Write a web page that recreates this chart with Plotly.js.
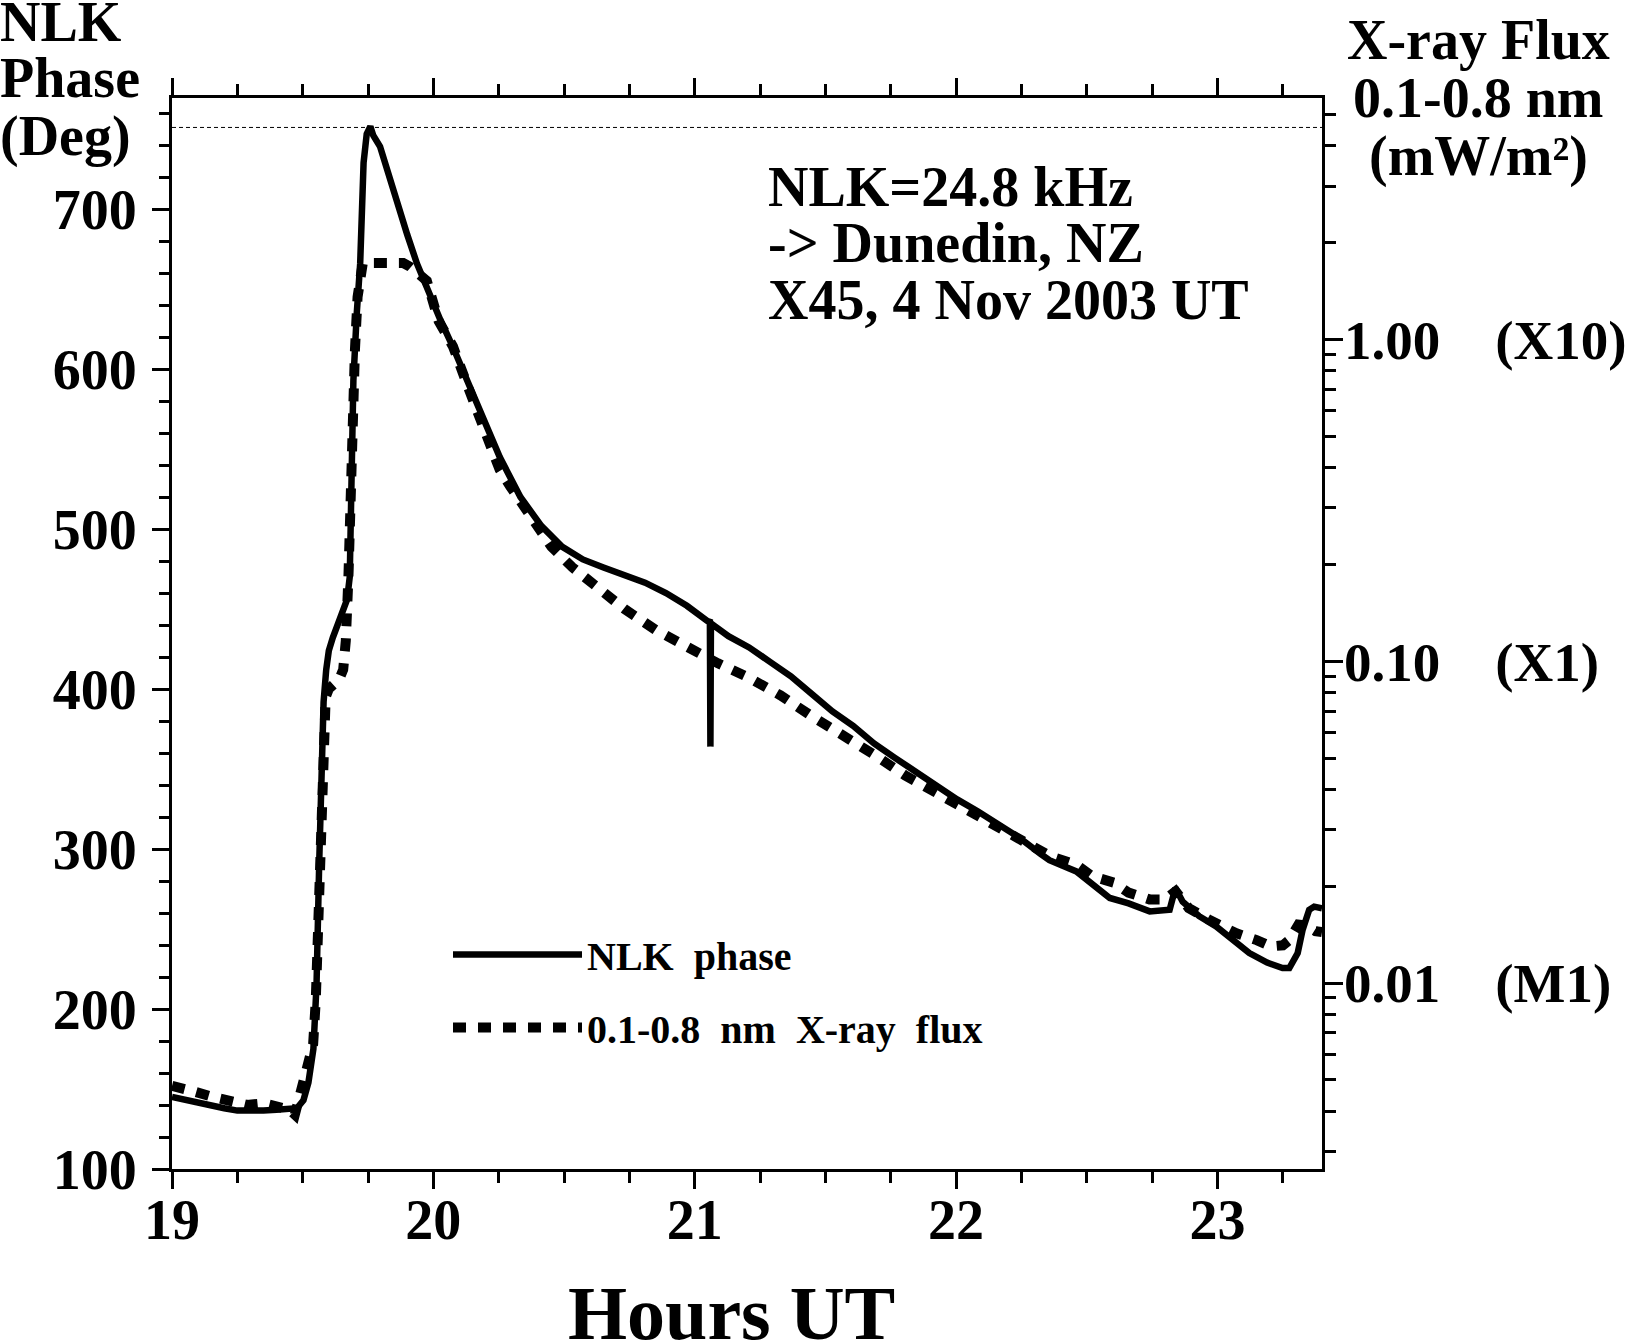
<!DOCTYPE html>
<html><head><meta charset="utf-8">
<script src="https://cdn.plot.ly/plotly-3.0.1.min.js"></script>
<style>html,body{margin:0;padding:0;background:#fff;}</style>
</head><body><div id="chart" style="width:1632px;height:1342px;"></div>
<script>
// ---- data ----
const phaseHours = [19.00,19.05,19.10,19.15,19.20,19.25,19.30,19.35,19.40,19.45,19.478,19.503,19.522,19.541,19.553,19.563,19.572,19.580,19.590,19.600,19.615,19.635,19.655,19.670,19.680,19.688,19.694,19.707,19.720,19.733,19.745,19.759,19.770,19.796,19.830,19.860,19.900,19.937,19.975,20.026,20.077,20.128,20.217,20.254,20.333,20.413,20.492,20.572,20.651,20.731,20.810,20.890,20.970,21.049,21.058,21.060,21.062,21.129,21.208,21.288,21.368,21.447,21.527,21.606,21.686,21.766,21.845,21.925,22.004,22.084,22.163,22.243,22.323,22.357,22.460,22.523,22.588,22.660,22.741,22.817,22.839,22.867,22.930,22.995,23.060,23.122,23.190,23.249,23.275,23.307,23.326,23.351,23.370,23.400];
const phaseDeg = [145,143,141,139.5,138,136.5,136,136.5,137,137,138,143,154,175,215,290,360,392,412,424,432,440,448,456,470,556,593,635,666,729,747,751.6,746,739,720,704,684,666,650,631,613,593,560,545,520,502,489,481,476,471,466.5,460,452,442.5,442,364,441,433,426,417,408,397,386,377,366,357,348,340,331,323.5,315.5,307,297,293,286,278,269.4,266,261,262,275.6,267,258,251.6,243,235,229,225.6,225.6,235,249.6,262,264,263];

const fluxHours = [19.00,19.04,19.08,19.146,19.22,19.287,19.35,19.39,19.45,19.47,19.49,19.51,19.529,19.54,19.55,19.56,19.57,19.578,19.588,19.60,19.62,19.64,19.655,19.665,19.675,19.685,19.692,19.70,19.71,19.72,19.73,19.78,19.83,19.885,19.91,19.94,19.975,20.02,20.075,20.134,20.194,20.254,20.293,20.373,20.452,20.532,20.631,20.731,20.85,20.97,21.089,21.208,21.328,21.447,21.567,21.686,21.805,21.925,22.044,22.163,22.283,22.36,22.46,22.52,22.605,22.66,22.74,22.80,22.84,22.89,22.97,23.07,23.15,23.205,23.25,23.275,23.31,23.34,23.375,23.40];
const fluxValues = [0.00479,0.00474,0.00461,0.00445,0.00428,0.00418,0.00423,0.00418,0.00404,0.00390,0.00443,0.00514,0.00576,0.00646,0.00880,0.0165,0.0368,0.0617,0.0775,0.0821,0.0849,0.0879,0.0942,0.116,0.183,0.408,0.645,0.930,1.357,1.649,1.73,1.73,1.73,1.73,1.687,1.612,1.522,1.143,0.952,0.707,0.525,0.394,0.351,0.280,0.227,0.196,0.169,0.1455,0.1253,0.1105,0.0986,0.0889,0.0784,0.0676,0.0592,0.0513,0.0442,0.0390,0.0342,0.0303,0.0269,0.0248,0.0233,0.0215,0.0205,0.0191,0.0182,0.0182,0.0193,0.0171,0.0157,0.0143,0.0136,0.0130,0.0131,0.0136,0.0152,0.0151,0.0145,0.0144];

const peakLineHours = [19, 23.4];
const peakLineDeg = [751, 751];

const hourTicks = [19, 20, 21, 22, 23];
const hourTickText = ['19', '20', '21', '22', '23'];
const phaseTicks = [100, 200, 300, 400, 500, 600, 700];
const phaseTickText = ['100', '200', '300', '400', '500', '600', '700'];
const fluxTicks = [0.01, 0.1, 1];
const fluxTickText = ['0.01\u00a0\u00a0\u00a0\u00a0(M1)', '0.10\u00a0\u00a0\u00a0\u00a0(X1)', '1.00\u00a0\u00a0\u00a0\u00a0(X10)'];
const fluxMinorTicks = [0.003,0.004,0.005,0.006,0.007,0.008,0.009,0.02,0.03,0.04,0.05,0.06,0.07,0.08,0.09,0.2,0.3,0.4,0.5,0.6,0.7,0.8,0.9,2,3,4,5];

const seriesNames = ['NLK\u00a0\u00a0phase', '0.1-0.8\u00a0\u00a0nm\u00a0\u00a0X-ray\u00a0\u00a0flux'];
const xTitle = 'Hours UT';
const leftTitle = ['NLK', 'Phase', '(Deg)'];
const rightTitle = ['X-ray Flux', '0.1-0.8 nm', '(mW/m\u00b2)'];
const infoText = ['NLK=24.8 kHz', '-> Dunedin, NZ', 'X45, 4 Nov 2003 UT'];

// ---- layout helpers (pixel -> paper) ----
const W = 1632, H = 1342;
const PL = 172, PR = 1322, PT = 98, PB = 1169;
const px2x = p => (p - PL) / (PR - PL);
const py2y = p => (PB - p) / (PB - PT);
const FAM = 'Liberation Serif, Times New Roman, serif';
const f = (size) => ({family: FAM, size: size, color: '#000', weight: 'bold'});

const traces = [
  {x: peakLineHours, y: peakLineDeg, type: 'scatter', mode: 'lines', showlegend: false,
   line: {color: '#000', width: 1, dash: '4px,3px'}, hoverinfo: 'skip'},
  {x: phaseHours, y: phaseDeg, type: 'scatter', mode: 'lines', name: seriesNames[0], legendgroup: 'a',
   line: {color: '#000', width: 6.5}},
  {x: fluxHours, y: fluxValues, type: 'scatter', mode: 'lines', name: seriesNames[1], legendgroup: 'b', yaxis: 'y2',
   line: {color: '#000', width: 10, dash: '13px,12px'}}
];

const annotations = [];
const leftCenters = [22, 78, 136];
leftTitle.forEach((t, i) => annotations.push({text: t, xref: 'paper', yref: 'paper', x: px2x(-2), y: py2y(leftCenters[i]),
  xanchor: 'left', yanchor: 'middle', showarrow: false, font: f(56)}));
const rightCenters = [40, 98, 156];
rightTitle.forEach((t, i) => annotations.push({text: t, xref: 'paper', yref: 'paper', x: px2x(1478), y: py2y(rightCenters[i]),
  xanchor: 'center', yanchor: 'middle', showarrow: false, font: f(56)}));
const infoCenters = [187, 243, 300];
infoText.forEach((t, i) => annotations.push({text: t, xref: 'paper', yref: 'paper', x: px2x(766), y: py2y(infoCenters[i]),
  xanchor: 'left', yanchor: 'middle', showarrow: false, font: f(56)}));
annotations.push({text: xTitle, xref: 'paper', yref: 'paper', x: px2x(731), y: py2y(1313),
  xanchor: 'center', yanchor: 'middle', showarrow: false, font: f(76)});

const layout = {
  width: W, height: H,
  margin: {l: PL, r: W - PR, t: PT, b: H - PB, autoexpand: false},
  paper_bgcolor: '#fff', plot_bgcolor: '#fff',
  font: f(40),
  showlegend: true,
  legend: {x: px2x(448), y: py2y(922), xanchor: 'left', yanchor: 'top', bgcolor: 'rgba(0,0,0,0)', borderwidth: 0,
           font: f(40), itemwidth: 129, traceorder: 'grouped', tracegroupgap: 18},
  xaxis: {range: [19, 23.4], tickmode: 'array', tickvals: hourTicks, ticktext: hourTickText,
          ticks: 'outside', ticklen: 17, tickwidth: 3, tickcolor: '#000',
          showline: true, linewidth: 3, linecolor: '#000', mirror: 'ticks', showgrid: false, zeroline: false,
          tickfont: f(56), ticklabelstandoff: -17,
          minor: {dtick: 0.25, tick0: 19, ticks: 'outside', ticklen: 11, tickwidth: 3, tickcolor: '#000', showgrid: false}},
  yaxis: {range: [100, 769.4], tickmode: 'array', tickvals: phaseTicks, ticktext: phaseTickText,
          ticks: 'outside', ticklen: 17, tickwidth: 3, tickcolor: '#000',
          showline: true, linewidth: 3, linecolor: '#000', showgrid: false, zeroline: false,
          tickfont: f(56), ticklabelstandoff: 4,
          minor: {dtick: 20, tick0: 100, ticks: 'outside', ticklen: 10, tickwidth: 3, tickcolor: '#000', showgrid: false}},
  yaxis2: {type: 'log', range: [-2.578, 0.751], overlaying: 'y', side: 'right', anchor: 'x',
          tickmode: 'array', tickvals: fluxTicks, ticktext: fluxTickText,
          ticks: 'outside', ticklen: 18, tickwidth: 3, tickcolor: '#000',
          showline: true, linewidth: 3, linecolor: '#000', showgrid: false, zeroline: false,
          tickfont: f(55), ticklabelstandoff: -10,
          minor: {tickmode: 'array', tickvals: fluxMinorTicks, ticks: 'outside', ticklen: 11, tickwidth: 3, tickcolor: '#000', showgrid: false}},
  annotations: annotations
};

Plotly.newPlot('chart', traces, layout, {displayModeBar: false, staticPlot: true});
</script></body></html>
